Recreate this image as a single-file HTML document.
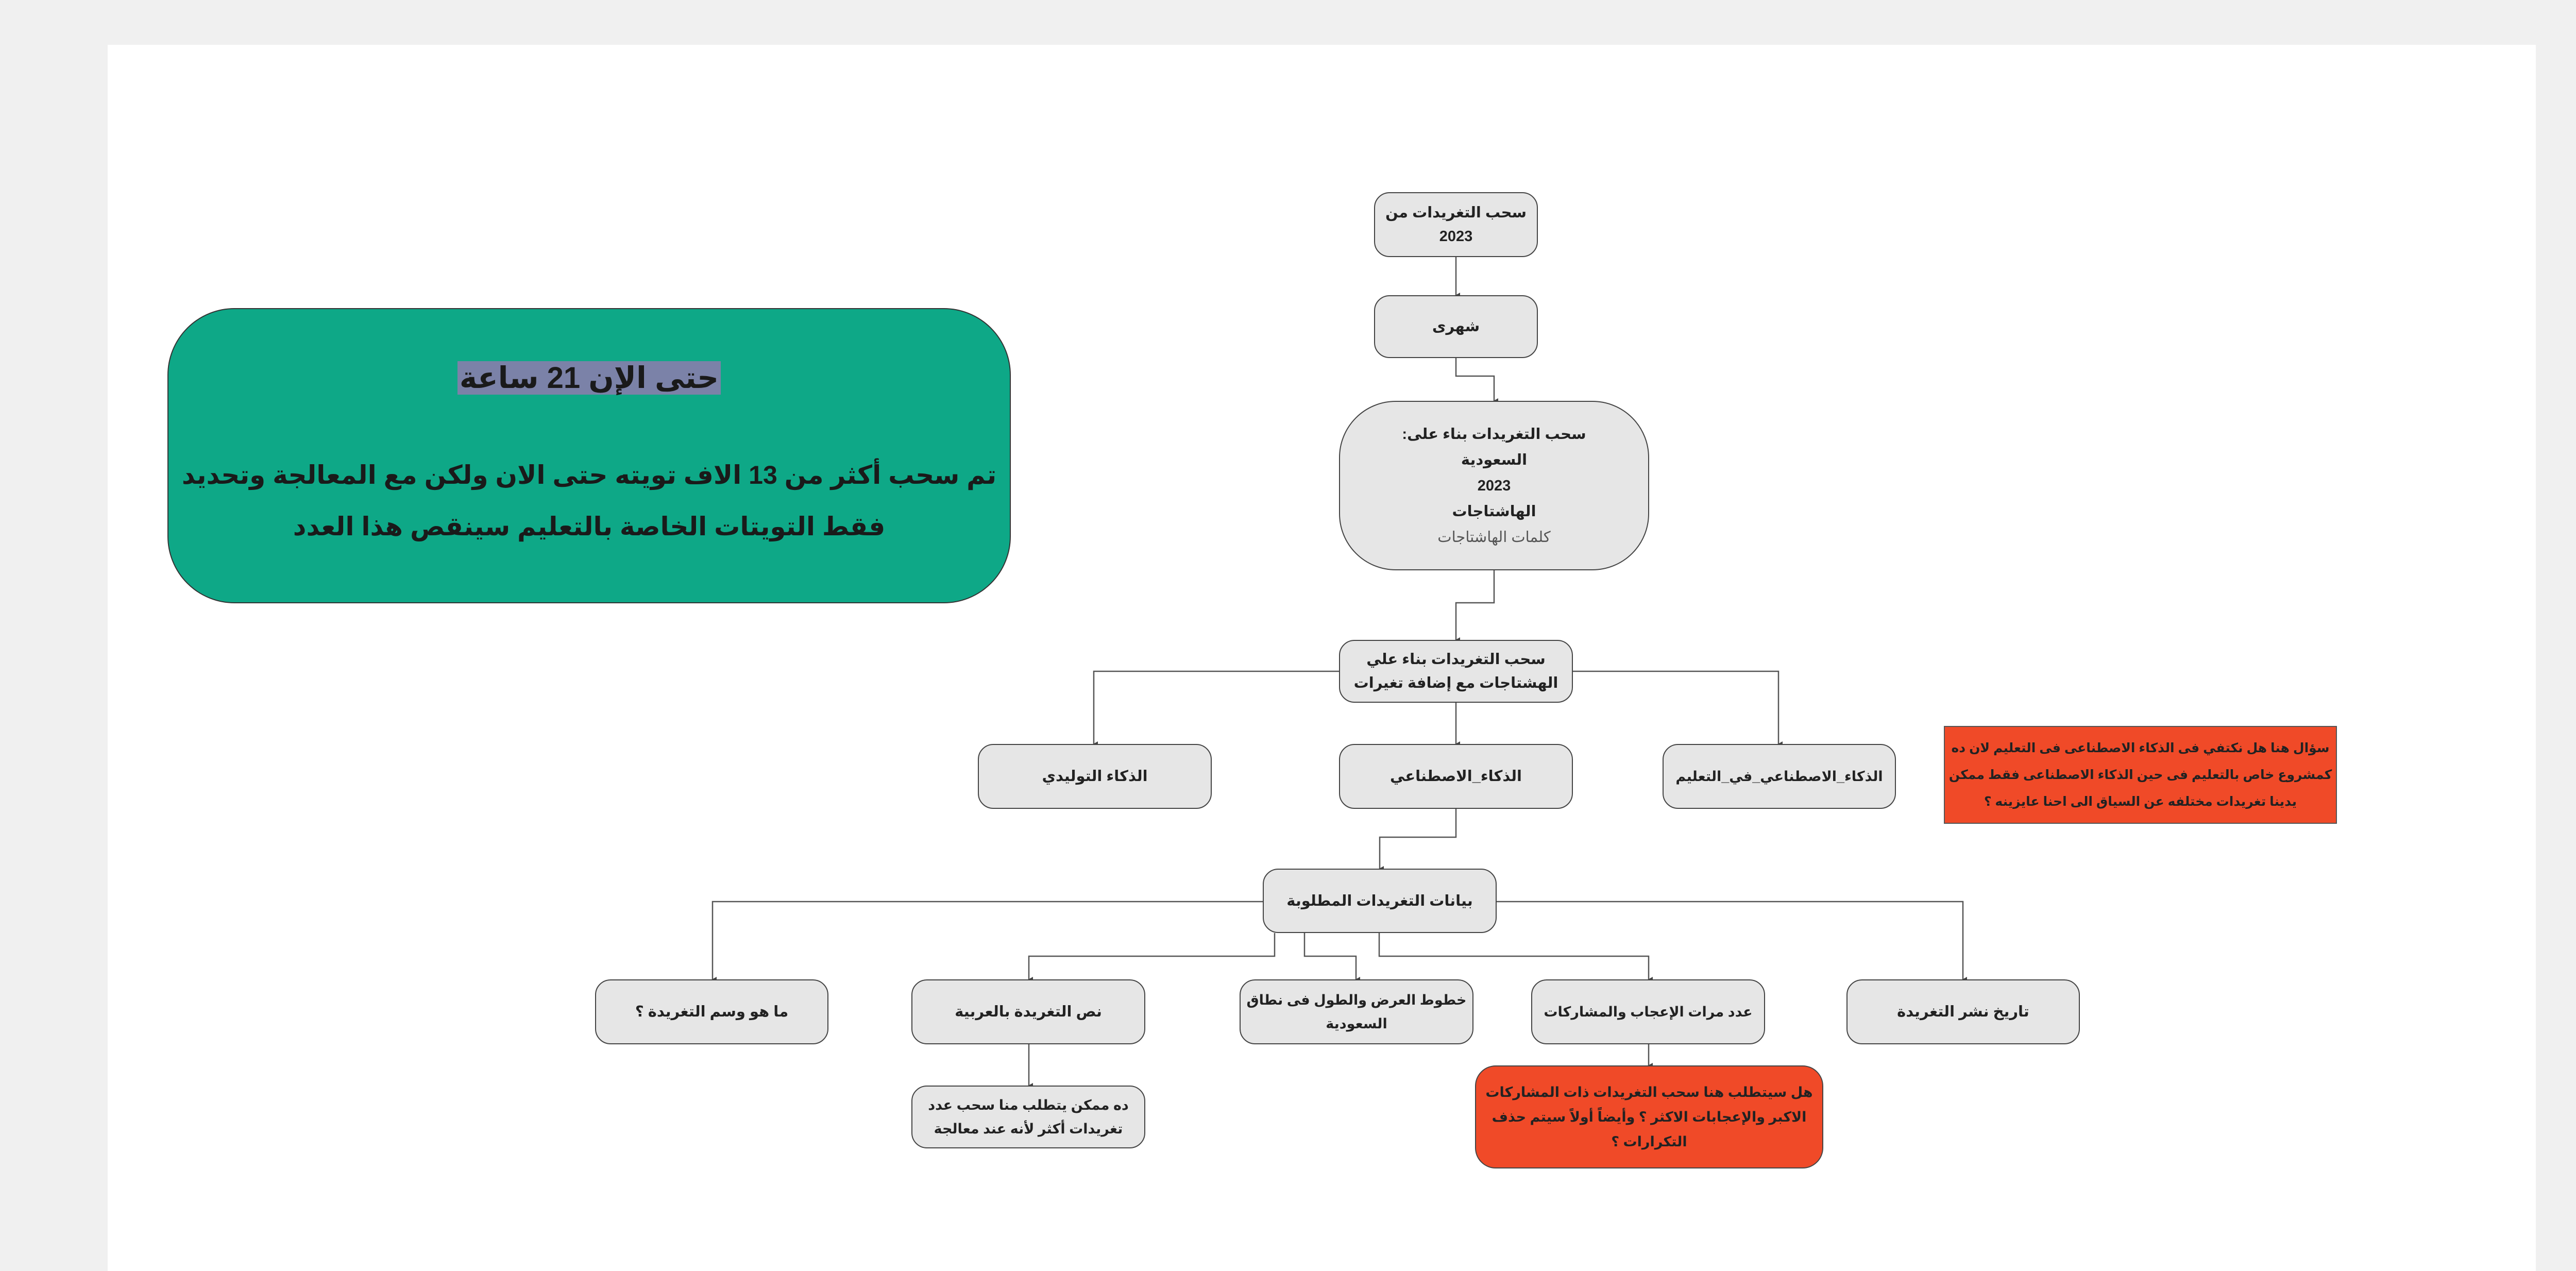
<!DOCTYPE html>
<html><head><meta charset="utf-8"><style>
html,body{margin:0;padding:0}
body{width:5044px;height:2467px;background:#f0f0f0;position:relative;overflow:hidden;font-family:"Liberation Sans","Noto Sans CJK SC","DejaVu Sans",sans-serif}
.panel{position:absolute;left:209px;top:87px;width:4713px;height:2380px;background:#fff}
.b{position:absolute;box-sizing:border-box;background:#e6e6e6;border:2.5px solid #444;border-radius:30px;display:flex;align-items:center;justify-content:center;text-align:center;direction:rtl;font-weight:bold;font-size:29px;line-height:46px;color:#222}
.b>div{white-space:nowrap}
svg{position:absolute;left:0;top:0}
</style></head><body>
<div class="panel"></div>
<svg width="5044" height="2467" viewBox="0 0 5044 2467">
<defs><marker id="a" markerWidth="10" markerHeight="10" refX="5" refY="8" orient="auto-start-reverse" markerUnits="userSpaceOnUse"><path d="M0,0 L10,0 L5,9 z" fill="#444"/></marker></defs>
<g fill="none" stroke="#555" stroke-width="2.5">
<path d="M2826,499 V573" marker-end="url(#a)"/>
<path d="M2826,695 V730 H2900 V778" marker-end="url(#a)"/>
<path d="M2900,1107 V1170 H2826 V1242" marker-end="url(#a)"/>
<path d="M2599,1303 H2123 V1444" marker-end="url(#a)"/>
<path d="M3053,1303 H3452 V1444" marker-end="url(#a)"/>
<path d="M2826,1364 V1444" marker-end="url(#a)"/>
<path d="M2826,1570 V1625 H2678 V1686" marker-end="url(#a)"/>
<path d="M2451,1750 H1383 V1901" marker-end="url(#a)"/>
<path d="M2905,1750 H3810 V1901" marker-end="url(#a)"/>
<path d="M2474,1811 V1856 H1997 V1901" marker-end="url(#a)"/>
<path d="M2532,1811 V1856 H2632 V1901" marker-end="url(#a)"/>
<path d="M2677,1811 V1856 H3200 V1901" marker-end="url(#a)"/>
<path d="M1997,2027 V2107" marker-end="url(#a)"/>
<path d="M3200,2027 V2068" marker-end="url(#a)"/>
</g></svg>

<div style="position:absolute;left:325px;top:598px;width:1637px;height:573px;box-sizing:border-box;background:#0ea887;border:2.5px solid #333;border-radius:130px;direction:rtl;text-align:center;font-weight:bold;color:#1a1a1a;white-space:nowrap">
<div style="margin-top:92px"><span style="background:#7b82a8;font-size:58px;line-height:84px;padding:0 4px">حتى الإن 21 ساعة</span></div>
<div style="font-size:50px;line-height:100px;margin-top:96px">تم سحب أكثر من 13 الاف تويته حتى الان ولكن مع المعالجة وتحديد<br>فقط التويتات الخاصة بالتعليم سينقص هذا العدد</div>
</div>

<div class="b" style="left:2667px;top:373px;width:318px;height:126px"><div>سحب التغريدات من<br>2023</div></div>
<div class="b" style="left:2667px;top:573px;width:318px;height:122px"><div>شهرى</div></div>
<div class="b" style="left:2599px;top:778px;width:602px;height:329px;border-radius:110px;line-height:50px"><div>سحب التغريدات بناء على:<br>السعودية<br>2023<br>الهاشتاجات<br><span style="font-weight:normal;color:#555">كلمات الهاشتاجات</span></div></div>
<div class="b" style="left:2599px;top:1242px;width:454px;height:122px"><div>سحب التغريدات بناء علي<br>الهشتاجات مع إضافة تغيرات</div></div>
<div class="b" style="left:1898px;top:1444px;width:454px;height:126px"><div>الذكاء التوليدي</div></div>
<div class="b" style="left:2599px;top:1444px;width:454px;height:126px"><div>الذكاء_الاصطناعي</div></div>
<div class="b" style="left:3227px;top:1444px;width:453px;height:126px;font-size:27px"><div>الذكاء_الاصطناعي_في_التعليم</div></div>
<div class="b" style="left:3773px;top:1409px;width:763px;height:190px;border-radius:0;background:#f04a28;border-color:#555;font-size:25px;line-height:52px"><div>سؤال هنا هل نكتفي فى الذكاء الاصطناعى فى التعليم لان ده<br>كمشروع خاص بالتعليم فى حين الذكاء الاصطناعى فقط ممكن<br>يدينا تغريدات مختلفه عن السياق الى احنا عايزينه ؟</div></div>
<div class="b" style="left:2451px;top:1686px;width:454px;height:125px"><div>بيانات التغريدات المطلوبة</div></div>
<div class="b" style="left:1155px;top:1901px;width:453px;height:126px"><div>ما هو وسم التغريدة ؟</div></div>
<div class="b" style="left:1769px;top:1901px;width:454px;height:126px"><div>نص التغريدة بالعربية</div></div>
<div class="b" style="left:2406px;top:1901px;width:454px;height:126px;font-size:27px"><div>خطوط العرض والطول فى نطاق<br>السعودية</div></div>
<div class="b" style="left:2972px;top:1901px;width:454px;height:126px;font-size:27px"><div>عدد مرات الإعجاب والمشاركات</div></div>
<div class="b" style="left:3584px;top:1901px;width:453px;height:126px"><div>تاريخ نشر التغريدة</div></div>
<div class="b" style="left:1769px;top:2107px;width:454px;height:122px;font-size:27px"><div>ده ممكن يتطلب منا سحب عدد<br>تغريدات أكثر لأنه عند معالجة</div></div>
<div class="b" style="left:2863px;top:2068px;width:676px;height:200px;background:#f04a28;border-radius:40px;line-height:48px;font-size:27px"><div>هل سيتطلب هنا سحب التغريدات ذات المشاركات<br>الاكبر والإعجابات الاكثر ؟ وأيضاً أولاً سيتم حذف<br>التكرارات ؟</div></div>
</body></html>
